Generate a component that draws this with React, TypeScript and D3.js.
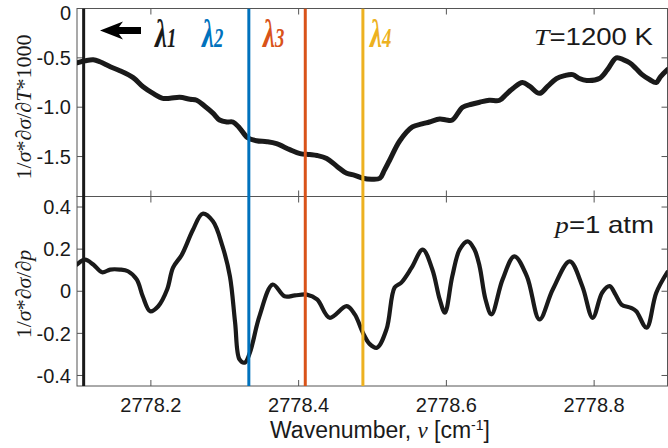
import React from 'react';
import * as d3 from 'd3';

// top panel: 1/sigma * dsigma/dT * 1000
const topWave = [
  2778.100, 2778.111, 2778.122, 2778.131, 2778.145, 2778.158, 2778.176, 2778.189, 2778.203, 2778.216,
  2778.226, 2778.239, 2778.253, 2778.262, 2778.273, 2778.284, 2778.293, 2778.303, 2778.311, 2778.320,
  2778.331, 2778.343, 2778.357, 2778.370, 2778.388, 2778.402, 2778.415, 2778.425, 2778.438, 2778.452,
  2778.465, 2778.476, 2778.487, 2778.499, 2778.510, 2778.516, 2778.523, 2778.537, 2778.554, 2778.567,
  2778.577, 2778.591, 2778.600, 2778.608, 2778.622, 2778.634, 2778.645, 2778.658, 2778.672, 2778.681,
  2778.690, 2778.703, 2778.713, 2778.726, 2778.737, 2778.749, 2778.760, 2778.771, 2778.780, 2778.790,
  2778.807, 2778.818, 2778.830, 2778.840, 2778.848, 2778.857, 2778.865, 2778.875, 2778.884, 2778.890,
  2778.899,
];
const topVal = [
  -0.55, -0.53, -0.52, -0.54, -0.59, -0.63, -0.70, -0.79, -0.86, -0.91,
  -0.91, -0.90, -0.92, -0.93, -0.99, -1.06, -1.13, -1.15, -1.15, -1.21,
  -1.31, -1.34, -1.35, -1.37, -1.43, -1.47, -1.48, -1.49, -1.52, -1.60,
  -1.67, -1.69, -1.72, -1.73, -1.72, -1.64, -1.54, -1.34, -1.20, -1.17,
  -1.15, -1.12, -1.13, -1.13, -1.00, -0.97, -0.95, -0.93, -0.93, -0.87,
  -0.81, -0.75, -0.79, -0.86, -0.79, -0.71, -0.68, -0.67, -0.71, -0.73,
  -0.71, -0.62, -0.50, -0.52, -0.55, -0.61, -0.67, -0.72, -0.75, -0.69,
  -0.62,
];

// bottom panel: 1/sigma * dsigma/dp
const botWave = [
  2778.100, 2778.111, 2778.122, 2778.134, 2778.145, 2778.158, 2778.169, 2778.181, 2778.189, 2778.199,
  2778.210, 2778.222, 2778.230, 2778.242, 2778.257, 2778.270, 2778.284, 2778.297, 2778.307, 2778.314,
  2778.320, 2778.327, 2778.334, 2778.347, 2778.365, 2778.381, 2778.395, 2778.411, 2778.425, 2778.442,
  2778.465, 2778.476, 2778.487, 2778.496, 2778.506, 2778.519, 2778.530, 2778.539, 2778.553, 2778.568,
  2778.581, 2778.591, 2778.598, 2778.608, 2778.618, 2778.629, 2778.638, 2778.645, 2778.653, 2778.661,
  2778.676, 2778.692, 2778.709, 2778.726, 2778.744, 2778.767, 2778.784, 2778.798, 2778.811, 2778.821,
  2778.829, 2778.837, 2778.850, 2778.857, 2778.871, 2778.884, 2778.899,
];
const botVal = [
  0.127, 0.150, 0.127, 0.090, 0.103, 0.103, 0.095, 0.055, -0.024, -0.095,
  -0.071, 0.008, 0.112, 0.174, 0.292, 0.368, 0.332, 0.213, 0.071, -0.148,
  -0.324, -0.339, -0.292, -0.118, 0.032, -0.024, -0.020, -0.016, -0.039, -0.126,
  -0.071, -0.110, -0.197, -0.250, -0.268, -0.180, 0.018, 0.041, 0.112, 0.198,
  0.103, -0.039, -0.102, 0.071, 0.198, 0.237, 0.198, 0.118, -0.039, -0.110,
  0.055, 0.166, 0.071, -0.134, 0.008, 0.142, 0.024, -0.126, -0.006, 0.024,
  -0.016, -0.063, -0.079, -0.095, -0.173, -0.008, 0.090,
];

const lambdaWave = [2778.109, 2778.3326, 2778.409, 2778.487];
const lambdaColors = ['#1a1a1a', '#0072BD', '#D95319', '#EDB120'];
const lambdaSubs = ['1', '2', '3', '4'];
const lambdaLabelX = [155, 202, 263, 370];

const xTicks = [2778.2, 2778.4, 2778.6, 2778.8];
const topTicks = [0, -0.5, -1.0, -1.5];
const topTickLabels = ['0', '-0.5', '-1.0', '-1.5'];
const botTicks = [0.4, 0.2, 0, -0.2, -0.4];
const botTickLabels = ['0.4', '0.2', '0', '-0.2', '-0.4'];

const W = 668;
const H = 448;
const left = 77;
const right = 667.5;
const top1 = 8.5;
const mid = 196.5;
const bot2 = 386;
const tickLen = 6;
const axisColor = '#555';
const textColor = '#1a1a1a';
const sans = '"Liberation Sans", Arial, sans-serif';
const serif = '"Liberation Serif", "Times New Roman", serif';

export default function App() {
  const x = d3.scaleLinear().domain([2778.1, 2778.9]).range([left, 668]);
  const yTop = d3.scaleLinear().domain([-1.905, 0]).range([mid, top1]);
  const yBot = d3.scaleLinear().domain([-0.45, 0.45]).range([bot2, mid]);

  const topLine = d3.line<number>()
    .x((_, i) => x(topWave[i]))
    .y(d => yTop(d))
    .curve(d3.curveCatmullRom.alpha(0.5));
  const botLine = d3.line<number>()
    .x((_, i) => x(botWave[i]))
    .y(d => yBot(d))
    .curve(d3.curveCatmullRom.alpha(0.5));

  const panelFrame = (y0: number, y1: number, key: string) => (
    <g key={key}>
      <rect x={left} y={y0} width={right - left} height={y1 - y0} fill="none" stroke={axisColor} strokeWidth={1} />
      {xTicks.map(t => (
        <g key={t}>
          <line x1={x(t)} x2={x(t)} y1={y0} y2={y0 + tickLen} stroke={axisColor} />
          <line x1={x(t)} x2={x(t)} y1={y1} y2={y1 - tickLen} stroke={axisColor} />
        </g>
      ))}
    </g>
  );

  const ax = lambdaLabelX[0];

  return (
    <div style={{ position: 'absolute', left: 0, top: 0 }}>
      <svg width={W} height={H} viewBox={`0 0 ${W} ${H}`} style={{ display: 'block', background: '#fff' }}>
        <defs>
          <clipPath id="plotClip">
            <rect x={left} y={top1} width={right - left} height={bot2 - top1} />
          </clipPath>
        </defs>

        {panelFrame(top1, mid, 'top')}
        {panelFrame(mid, bot2, 'bot')}

        {/* y ticks, top panel */}
        {topTicks.map((t, i) => (
          <g key={'yt' + t}>
            <line x1={left} x2={left + tickLen} y1={yTop(t)} y2={yTop(t)} stroke={axisColor} />
            <line x1={right} x2={right - tickLen} y1={yTop(t)} y2={yTop(t)} stroke={axisColor} />
            <text x={71} y={Math.max(yTop(t), 13)} dy="0.36em" textAnchor="end" fontFamily={sans} fontSize={20} fill={textColor}>
              {topTickLabels[i]}
            </text>
          </g>
        ))}
        {/* y ticks, bottom panel */}
        {botTicks.map((t, i) => (
          <g key={'yb' + t}>
            <line x1={left} x2={left + tickLen} y1={yBot(t)} y2={yBot(t)} stroke={axisColor} />
            <line x1={right} x2={right - tickLen} y1={yBot(t)} y2={yBot(t)} stroke={axisColor} />
            <text x={71} y={yBot(t)} dy="0.36em" textAnchor="end" fontFamily={sans} fontSize={20} fill={textColor}>
              {botTickLabels[i]}
            </text>
          </g>
        ))}
        {/* x tick labels */}
        {xTicks.map(t => (
          <text key={'xl' + t} x={x(t)} y={411.5} textAnchor="middle" fontFamily={sans} fontSize={20} fill={textColor}>
            {t.toFixed(1)}
          </text>
        ))}

        <g clipPath="url(#plotClip)">
          <path d={topLine(topVal) || ''} fill="none" stroke={textColor} strokeWidth={5} strokeLinejoin="round" strokeLinecap="round" />
          <path d={botLine(botVal) || ''} fill="none" stroke={textColor} strokeWidth={4.2} strokeLinejoin="round" strokeLinecap="round" />
          {lambdaWave.map((w, i) => (
            <line key={'lam' + i} x1={x(w)} x2={x(w)} y1={top1} y2={bot2} stroke={lambdaColors[i]} strokeWidth={3} />
          ))}
        </g>

        {/* lambda labels */}
        {lambdaWave.map((w, i) => (
          <text
            key={'ll' + i}
            transform={`translate(${lambdaLabelX[i]},47) scale(0.85,1.22)`}
            fontFamily={serif}
            fontWeight="bold"
            fontStyle="italic"
            fill={lambdaColors[i]}
          >
            <tspan fontSize={32}>λ</tspan>
            <tspan fontSize={22}>{lambdaSubs[i]}</tspan>
          </text>
        ))}
        {/* arrow pointing left next to lambda 1 */}
        <path
          d={`M${ax - 55},30.5 L${ax - 32},21.5 L${ax - 36},27 L${ax - 14},27 L${ax - 14},34 L${ax - 36},34 L${ax - 32},39.5 Z`}
          fill="#000"
        />

        <text transform="translate(653,45) scale(1.2,1)" textAnchor="end" fontFamily={sans} fontSize={23} fill={textColor}>
          <tspan fontFamily={serif} fontStyle="italic">T</tspan>=1200 K
        </text>
        <text transform="translate(654,233) scale(1.2,1)" textAnchor="end" fontFamily={sans} fontSize={23} fill={textColor}>
          <tspan fontFamily={serif} fontStyle="italic">p</tspan>=1 atm
        </text>

        {/* y axis titles */}
        <text transform="translate(31,107) rotate(-90)" textAnchor="middle" fontFamily={serif} fontSize={22} fill={textColor}>
          1/<tspan fontStyle="italic">σ</tspan>*∂<tspan fontStyle="italic">σ</tspan>/∂<tspan fontStyle="italic">T</tspan>*1000
        </text>
        <text transform="translate(31,294) rotate(-90)" textAnchor="middle" fontFamily={serif} fontSize={22} fill={textColor}>
          1/<tspan fontStyle="italic">σ</tspan>*∂<tspan fontStyle="italic">σ</tspan>/∂<tspan fontStyle="italic">p</tspan>
        </text>

        {/* x axis title */}
        <text x={270} y={438} fontFamily={sans} fontSize={23} fill={textColor}>
          Wavenumber, <tspan fontFamily={serif} fontStyle="italic">ν</tspan> [cm<tspan dy={-8} fontSize={14}>-1</tspan><tspan dy={8}>]</tspan>
        </text>
      </svg>
    </div>
  );
}
